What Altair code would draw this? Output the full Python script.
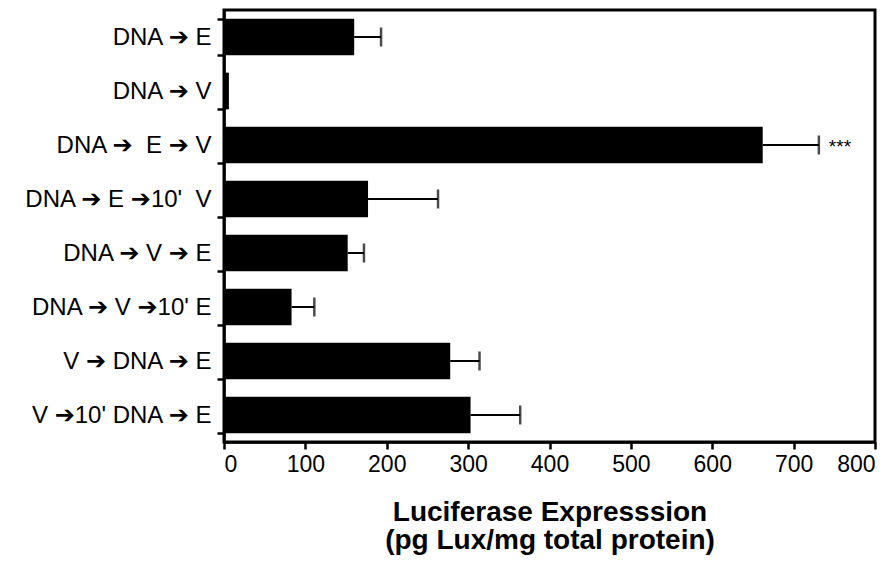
import altair as alt
import pandas as pd

labels = [
    "DNA \u2794 E",
    "DNA \u2794 V",
    "DNA \u2794\u00a0\u00a0E \u2794 V",
    "DNA \u2794 E \u279410'\u00a0\u00a0V",
    "DNA \u2794 V \u2794 E",
    "DNA \u2794 V \u279410' E",
    "V \u2794 DNA \u2794 E",
    "V \u279410' DNA \u2794 E",
]
means = [160, 6, 662, 177, 152, 83, 278, 303]
errors = [33, None, 69, 86, 20, 28, 36, 61]
marks = ["", "", "***", "", "", "", "", ""]

df = pd.DataFrame({"group": labels, "mean": means, "err": errors, "sig": marks})

NARROW = "Liberation Sans Narrow, Liberation Sans, DejaVu Sans"
BOLD = "Liberation Sans, Arial, DejaVu Sans"

yenc = alt.Y(
    "group:N",
    sort=labels,
    title=None,
    scale=alt.Scale(paddingInner=0.32, paddingOuter=0.16),
    axis=alt.Axis(
        labelFont=NARROW,
        labelFontSize=24,
        labelColor="black",
        labelPadding=6,
        labelLimit=300,
        tickBand="extent",
        tickSize=7,
        tickWidth=2.5,
        tickColor="black",
        domainColor="black",
        domainWidth=2.5,
    ),
)

xscale = alt.Scale(domain=[0, 800], nice=False)

base = alt.Chart(df).transform_calculate(upper="datum.mean + datum.err")

bars = base.mark_bar(color="black").encode(
    x=alt.X(
        "mean:Q",
        scale=xscale,
        title=["Luciferase Expresssion", "(pg Lux/mg total protein)"],
        axis=alt.Axis(
            values=[0, 100, 200, 300, 400, 500, 600, 700, 800],
            grid=False,
            labelFont=NARROW,
            labelFontSize=23,
            labelColor="black",
            labelPadding=4,
            tickSize=7,
            tickWidth=2.5,
            tickColor="black",
            domainColor="black",
            domainWidth=2.5,
            titleFont=BOLD,
            titleFontWeight="bold",
            titleFontSize=28,
            titleLineHeight=28.5,
            titleColor="black",
            titlePadding=22,
        ),
    ),
    y=yenc,
)

valid = base.transform_filter("isValid(datum.err)")

err_line = valid.mark_rule(color="black", strokeWidth=2).encode(
    x=alt.X("mean:Q", scale=xscale),
    x2="upper:Q",
    y=alt.Y("group:N", sort=labels),
)

err_cap = valid.mark_tick(color="black", orient="vertical", size=19, thickness=2.5).encode(
    x=alt.X("upper:Q", scale=xscale),
    y=alt.Y("group:N", sort=labels),
)

stars = base.transform_filter("datum.sig != ''").mark_text(
    align="left", baseline="middle", dx=10, dy=2, fontSize=19,
    font="Liberation Sans, Arial", color="black",
).encode(
    x=alt.X("upper:Q", scale=xscale),
    y=alt.Y("group:N", sort=labels),
    text="sig:N",
)

chart = (
    alt.layer(bars, err_line, err_cap, stars)
    .properties(
        width=651,
        height=432,
        background="white",
        autosize=alt.AutoSizeParams(type="none"),
        padding={"left": 216, "top": 2, "right": 12, "bottom": 114},
    )
    .configure_view(stroke="black", strokeWidth=3)
)

chart.save("out.html", embed_options={"renderer": "svg", "actions": False})
